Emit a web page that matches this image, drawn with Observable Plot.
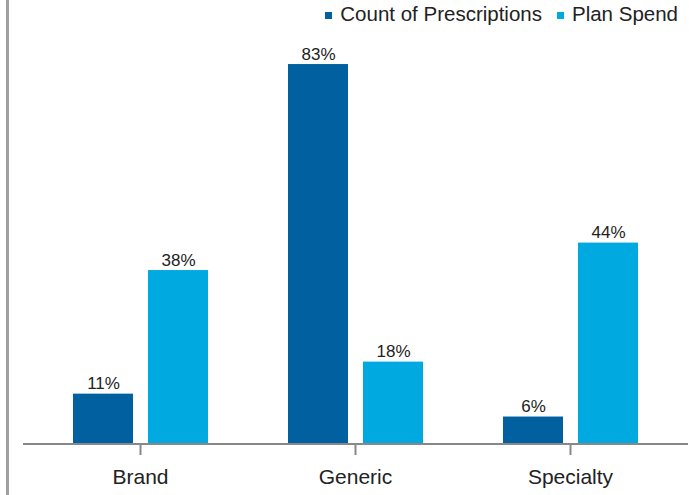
<!DOCTYPE html>
<html>
<head>
<meta charset="utf-8">
<script src="https://cdn.jsdelivr.net/npm/d3@7"></script>
<script src="https://cdn.jsdelivr.net/npm/@observablehq/plot@0.6"></script>
<style>
  body { margin: 0; background: #fff; font-family: "Liberation Sans", Arial, sans-serif; }
  #wrap { position: relative; width: 689px; height: 495px; overflow: hidden; }
  #leftline { position: absolute; left: 6px; top: 0; width: 3px; height: 495px; background: #a0a0a0; }
  #legend { height: 28px; display: flex; justify-content: flex-end; align-items: center; padding-right: 11px; font-size: 20.5px; color: #222; }
  .item { display: flex; align-items: center; margin-left: 15px; }
  .sw { width: 7px; height: 7px; margin-right: 8px; margin-top: 2px; }
</style>
</head>
<body>
<div id="wrap">
  <div id="leftline"></div>
  <div id="legend"></div>
  <div id="chart"></div>
</div>
<script>
const categories = ["Brand", "Generic", "Specialty"];
const series = ["Count of Prescriptions", "Plan Spend"];
const countValues = [11, 83, 6];
const spendValues = [38, 18, 44];
const colors = ["#0060a0", "#00a9e0"];

const rows = [];
categories.forEach((c, i) => {
  rows.push({category: c, series: series[0], value: countValues[i]});
  rows.push({category: c, series: series[1], value: spendValues[i]});
});

const legend = document.getElementById("legend");
series.forEach((s, i) => {
  const it = document.createElement("div");
  it.className = "item";
  const sw = document.createElement("span");
  sw.className = "sw";
  sw.style.background = colors[i];
  const t = document.createElement("span");
  t.textContent = s;
  it.appendChild(sw);
  it.appendChild(t);
  legend.appendChild(it);
});

const chart = Plot.plot({
  width: 689,
  height: 467,
  marginLeft: 23,
  marginRight: 2,
  marginTop: 4,
  marginBottom: 51,
  style: {fontFamily: "'Liberation Sans', Arial, sans-serif", color: "#222", background: "transparent", overflow: "visible"},
  fx: {domain: categories, paddingInner: 0, paddingOuter: 0.044, label: null},
  x: {domain: series, paddingInner: 0.2, paddingOuter: 0.52, axis: null},
  y: {domain: [0, 90], axis: null},
  color: {domain: series, range: colors},
  marks: [
    Plot.barY(rows, {fx: "category", x: "series", y: "value", fill: "series"}),
    Plot.text(rows, {fx: "category", x: "series", y: "value", text: d => d.value + "%", dy: -5, lineAnchor: "bottom", fontSize: 17, fill: "#222"}),
    Plot.ruleY([0], {stroke: "#888", strokeWidth: 2, dy: -0.5, insetLeft: -10, insetRight: -10}),
    Plot.axisFx({anchor: "bottom", tickSize: 11, tickPadding: 14, fontSize: 21, stroke: "#888", strokeWidth: 2, dx: -0.5, label: null})
  ]
});
document.getElementById("chart").appendChild(chart);
</script>
</body>
</html>
